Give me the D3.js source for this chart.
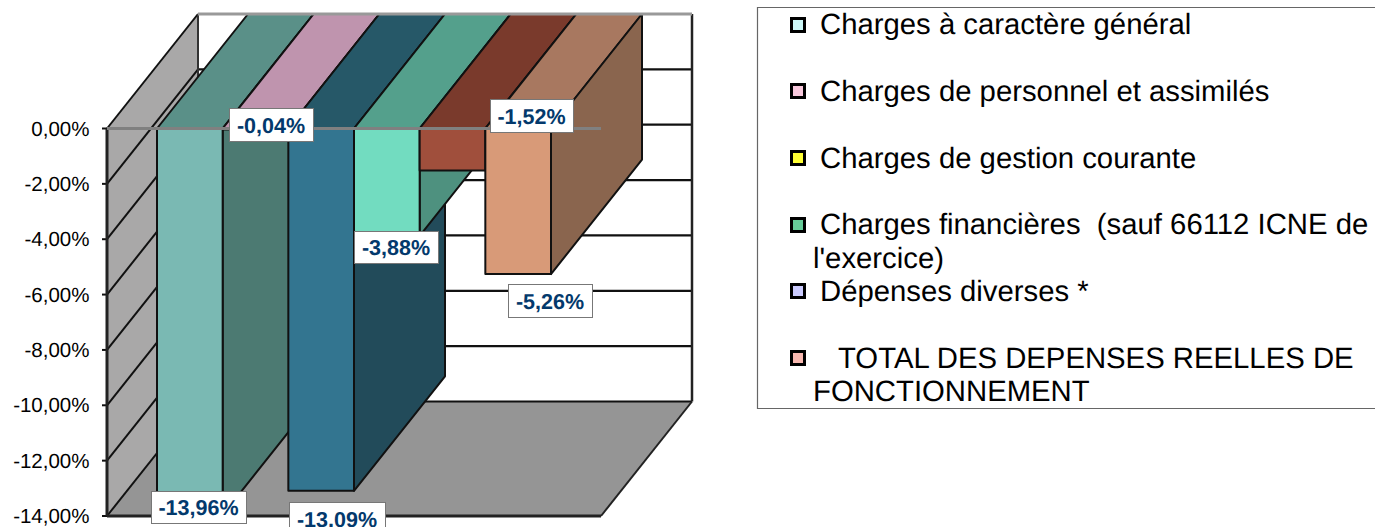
<!DOCTYPE html>
<html><head><meta charset="utf-8">
<script src="https://cdnjs.cloudflare.com/ajax/libs/d3/7.8.5/d3.min.js"></script>
<style>html,body{margin:0;padding:0;background:#fff;overflow:hidden}svg{display:block}text{text-rendering:geometricPrecision}</style>
</head><body><svg id="c" width="1375" height="527"></svg>
<script>
const seriesNames = ["Charges à caractère général","Charges de personnel et assimilés","Charges de gestion courante","Charges financières","Dépenses diverses","TOTAL"];
const seriesValues = [-13.96,-0.04,-13.09,-3.88,-1.52,-5.26];
const valueLabels = ["-13,96%","-0,04%","-13,09%","-3,88%","-1,52%","-5,26%"];
const frontColors = ["#7ab9b3","#c69cb4","#337590","#72dcc0","#a04f3c","#d89a78"];
const sideColors = ["#4c7a72","#8a6a7e","#224b5a","#4e917f","#6e3528","#8a654e"];
const topColors = ["#5a9088","#bf94ae","#265868","#54a08c","#7a3a2c","#a87860"];
const tickValues = [0,-2,-4,-6,-8,-10,-12,-14];
const tickLabels = ["0,00%","-2,00%","-4,00%","-6,00%","-8,00%","-10,00%","-12,00%","-14,00%"];
const legendLines = [
 {swatch:"#ccf8f8",text:"Charges à caractère général",tx:820,by:34,sy:25},
 {swatch:"#f8c8dc",text:"Charges de personnel et assimilés",tx:820,by:101,sy:91},
 {swatch:"#ffff33",text:"Charges de gestion courante",tx:820,by:168,sy:158},
 {swatch:"#66cc99",text:"Charges financières  (sauf 66112 ICNE de",tx:820,by:234,sy:225},
 {text:"l'exercice)",tx:813,by:268},
 {swatch:"#ccccff",text:"Dépenses diverses *",tx:820,by:301,sy:291},
 {swatch:"#f8b8b0",text:"TOTAL DES DEPENSES REELLES DE",tx:838,by:368,sy:358},
 {text:"FONCTIONNEMENT",tx:813,by:401}
];
const labelBoxes = [[151,491,95,32],[229,108,84,33],[289,502,96,33],[354,231,84,32],[490,99,83,33],[508,284,84,33]];

const svg = d3.select("#c");
const y = d3.scaleLinear().domain([0,-14]).range([128.5,516]);
const x = d3.scaleBand().domain(d3.range(6)).range([157,551]).padding(0);
const DX = 91, DY = -114.5, L = 107, R = 601;
const poly = (pts,fill,stroke,sw)=>svg.append("polygon").attr("points",pts.map(p=>p.join(",")).join(" "))
  .attr("fill",fill).attr("stroke",stroke||"none").attr("stroke-width",sw||0).attr("stroke-linejoin","round");
const line = (a,b,c,w)=>svg.append("line").attr("x1",a[0]).attr("y1",a[1]).attr("x2",b[0]).attr("y2",b[1]).attr("stroke",c).attr("stroke-width",w);

const y0=y(0), yb=y(-14);
poly([[L,y0],[L+DX,y0+DY],[L+DX,yb+DY],[L,yb]],"#a9a8a8");
poly([[L,yb],[R,yb],[R+DX,yb+DY],[L+DX,yb+DY]],"#959595");
tickValues.forEach(t=>{
  const v=y(t);
  line([L,v],[L+DX,v+DY],"#111",2);
  line([L+DX,v+DY],[R+DX,v+DY],t===0?"#888":"#111",2.2);
  line([L-5,v],[L,v],"#111",2);
});
line([L,y0],[L,yb],"#222",3);
line([L,yb],[R,yb],"#222",3);
line([R,yb],[R+DX,yb+DY],"#222",2);
line([L+DX,y0+DY],[L+DX,yb+DY],"#333",2);
line([R+DX,y0+DY],[R+DX,yb+DY],"#222",2.5);

seriesValues.forEach((v,i)=>{
  const a=x(i), b=a+x.bandwidth(), vy=y(v);
  poly([[a,y0],[a+DX,y0+DY],[b+DX,y0+DY],[b,y0]],topColors[i],"#111",2);
  poly([[b,y0],[b+DX,y0+DY],[b+DX,vy+DY],[b,vy]],sideColors[i],"#111",2);
  poly([[a,y0],[b,y0],[b,vy],[a,vy]],frontColors[i],"#111",2);
});
line([L,y0],[R,y0],"#808080",3);
line([L+DX,y0+DY],[R+DX,y0+DY],"#999",3);

svg.selectAll(".tick").data(tickValues).join("text").attr("class","tick")
 .attr("x",89.5).attr("y",d=>y(d)+7).attr("text-anchor","end")
 .attr("font-family","Liberation Sans").attr("font-size",20.5).attr("fill","#000")
 .text((d,i)=>tickLabels[i]);

valueLabels.forEach((t,i)=>{
  const [bx,by,bw,bh]=labelBoxes[i];
  svg.append("rect").attr("x",bx+.5).attr("y",by+.5).attr("width",bw).attr("height",bh).attr("fill","#fff").attr("stroke","#777").attr("stroke-width",1);
  svg.append("text").attr("x",bx+bw/2).attr("y",by+bh/2+8).attr("text-anchor","middle")
   .attr("font-family","Liberation Sans").attr("font-weight","bold").attr("font-size",21.5).attr("fill","#03396c").text(t);
});

svg.append("path").attr("d","M1375,7.5H757.5V408.5H1375").attr("fill","none").attr("stroke","#666").attr("stroke-width",1.2);
legendLines.forEach(d=>{
  if(d.swatch) svg.append("rect").attr("x",791.5).attr("y",d.sy-6.5).attr("width",13).attr("height",13).attr("fill",d.swatch).attr("stroke","#000").attr("stroke-width",3);
  svg.append("text").attr("x",d.tx).attr("y",d.by).style("white-space","pre")
   .attr("font-family","Liberation Sans").attr("font-size",29.3).attr("fill","#000").text(d.text);
});
</script></body></html>
